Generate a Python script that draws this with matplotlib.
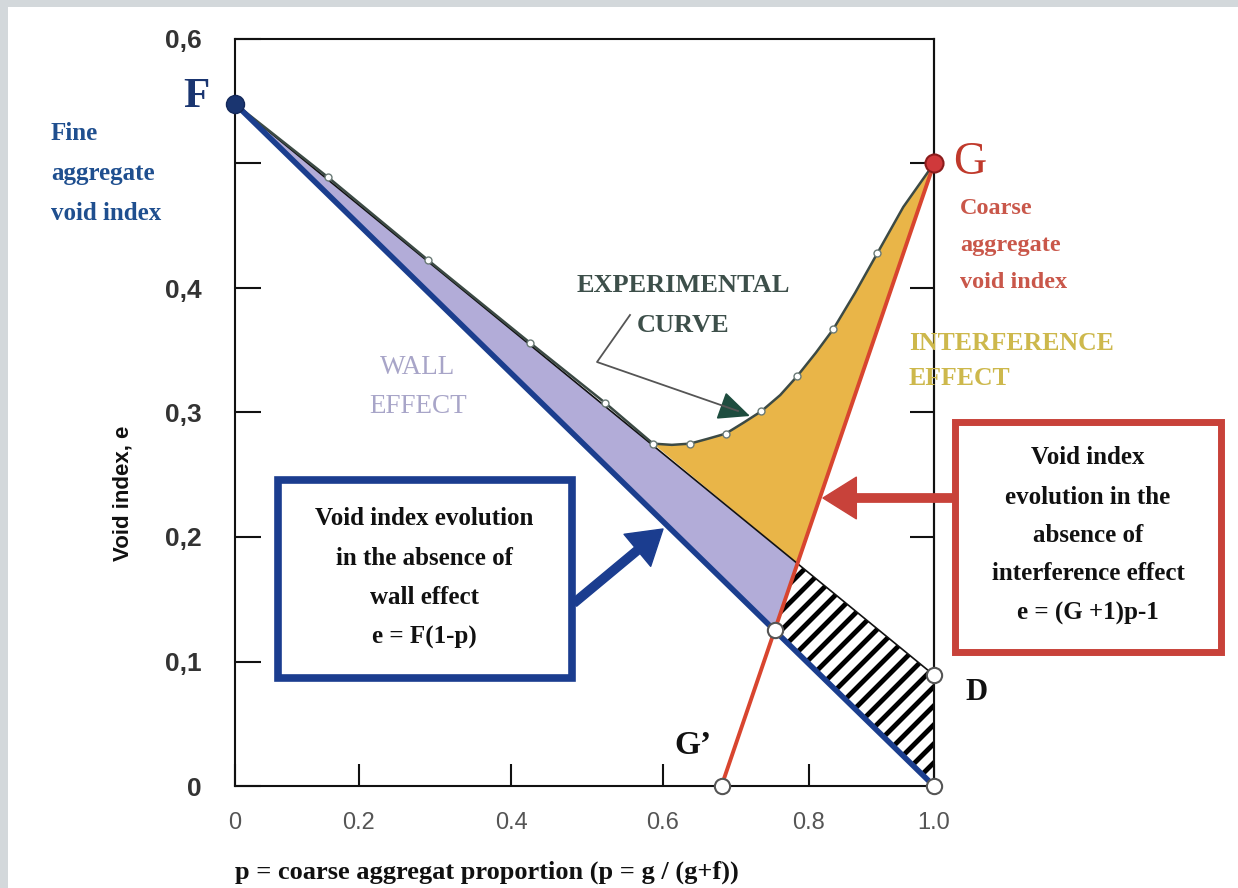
import matplotlib
matplotlib.use('Agg')
import matplotlib.pyplot as plt
import numpy as np
from matplotlib.patches import Rectangle, FancyArrowPatch, Polygon

# valeurs
F_void = 0.548      # indice des vides du sable (p = 0)
G_void = 0.50       # indice des vides du gravier (p = 1)
D_void = 0.089      # point D sur p = 1
Gp_pos = 0.696      # G' : la droite rouge coupe e = 0

# points mesurés (petits cercles blancs)
exp_p = [0.133, 0.276, 0.422, 0.529, 0.598, 0.651, 0.702, 0.753, 0.804, 0.856, 0.919]
exp_e = [0.489, 0.4225, 0.356, 0.308, 0.275, 0.275, 0.283, 0.301, 0.329, 0.367, 0.428]

# tracé de la courbe expérimentale (relevé le long du trait)
curve_p = [0.0, 0.133, 0.276, 0.422, 0.529, 0.598, 0.625, 0.651, 0.677, 0.702, 0.728,
           0.753, 0.780, 0.804, 0.831, 0.856, 0.887, 0.919, 0.956, 1.0]
curve_e = [0.548, 0.489, 0.4225, 0.356, 0.308, 0.275, 0.274, 0.275, 0.279, 0.283, 0.292,
           0.301, 0.314, 0.329, 0.348, 0.367, 0.396, 0.428, 0.465, 0.50]

x_tick_pos = [0, 0.177, 0.395, 0.612, 0.821, 1.0]
x_tick_lab = ['0', '0.2', '0.4', '0.6', '0.8', '1.0']
y_tick_pos = [0, 0.1, 0.2, 0.3, 0.4, 0.5, 0.6]
y_tick_lab = ['0', '0,1', '0,2', '0,3', '0,4', '', '0,6']
right_ticks = [0.2, 0.3, 0.4, 0.5]

W, H = 1238, 888
SERIF = 'Liberation Serif'
SANS = 'Liberation Sans'


def P(x, y):
    # pixel -> fraction de figure
    return (x / W, 1 - y / H)


fig = plt.figure(figsize=(W / 100, H / 100), dpi=100, facecolor='#d3d8db')
fig.add_artist(Rectangle(P(8, H), (W - 8) / W, (H - 7) / H, transform=fig.transFigure,
                         facecolor='white', edgecolor='none', zorder=-5))

ax_w, ax_h = 699, 747
ax = fig.add_axes([235 / W, (H - 786) / H, ax_w / W, ax_h / H])
ax.set_facecolor('none')
ax.set_xlim(0, 1)
ax.set_ylim(0, 0.6)

# droites
slope_r = G_void / (1 - Gp_pos)
slope_fd = D_void - F_void
p_rfd = (F_void + slope_r * Gp_pos) / (slope_r - slope_fd)
e_rfd = F_void + slope_fd * p_rfd
p_rb = (F_void + slope_r * Gp_pos) / (slope_r + F_void)
e_rb = F_void * (1 - p_rb)
i_min = curve_p.index(0.598)

lav = [(0, F_void), (p_rfd, e_rfd), (p_rb, e_rb)]
ax.add_patch(Polygon(lav, closed=True, facecolor='#b2acd8', edgecolor='none', zorder=1))
orange = list(zip(curve_p[i_min:], curve_e[i_min:])) + [(p_rfd, e_rfd)]
ax.add_patch(Polygon(orange, closed=True, facecolor='#e9b548', edgecolor='none', zorder=1))
hatch = Polygon([(p_rfd, e_rfd), (1, D_void), (1, 0), (p_rb, e_rb)], closed=True,
                facecolor='white', edgecolor='none', zorder=1)
ax.add_patch(hatch)
# hachures à 45° à l'écran, pas horizontal de 19 px
rise = 0.6 * ax_w / (ax_h / 0.6)   # hausse en e pour 0.6 en p à 45°
for c in np.arange(0.45, 1.02, 19 / ax_w):
    ln, = ax.plot([c, c + 0.6], [0, rise], color='black', lw=3.5, zorder=2,
                  solid_capstyle='butt')
    ln.set_clip_path(hatch)

ax.plot([0, 1], [F_void, D_void], color='#111111', lw=1.2, zorder=2)
ax.plot(curve_p, curve_e, color='#3c4a45', lw=1.8, zorder=3)
ax.plot(exp_p, exp_e, 'o', ms=5, mfc='white', mec='#6a7a76', mew=1.0, zorder=6)
ax.plot([0, 1], [F_void, 0], color='#1b3e8e', lw=4, solid_capstyle='round', zorder=4)
ax.plot([Gp_pos, 1], [0, G_void], color='#d8452f', lw=2.8, zorder=4)

ax.plot([p_rb, 1, 1, Gp_pos], [e_rb, D_void, 0, 0], 'o', ms=11, mfc='white',
        mec='#555555', mew=1.5, zorder=7, clip_on=False)
ax.plot([0], [F_void], 'o', ms=13, mfc='#1a3570', mec='#13285a', zorder=8, clip_on=False)
ax.plot([1], [G_void], 'o', ms=13, mfc='#d0393b', mec='#8c1c1c', mew=1.5, zorder=8, clip_on=False)

# axes
for s in ax.spines.values():
    s.set_linewidth(1.5)
    s.set_color('#111111')
ax.set_yticks(y_tick_pos)
ax.set_yticklabels(y_tick_lab, fontfamily=SANS, fontweight='bold', fontsize=19, color='#333333')
ax.set_xticks(x_tick_pos)
ax.set_xticklabels(x_tick_lab, fontfamily=SANS, fontsize=17, color='#555555')
ax.tick_params(axis='y', direction='in', length=19, width=1.5, pad=24, color='#111111')
ax.tick_params(axis='x', direction='in', length=16, width=1.5, pad=19, color='#111111')
sec = ax.secondary_yaxis('right')
sec.set_yticks(right_ticks)
sec.set_yticklabels([])
sec.tick_params(direction='in', length=17, width=1.5, color='#111111')
sec.spines['right'].set_linewidth(1.5)

fig.text(*P(123, 493), 'Void index, e', rotation=90, ha='center', va='center',
         fontfamily=SANS, fontweight='bold', fontsize=16, color='#111111')
fig.text(*P(235, 872), 'p = coarse aggregat proportion (p = g / (g+f))', ha='left', va='center',
         fontfamily=SERIF, fontweight='bold', fontsize=19, color='#111111')

# lettres et libellés
fig.text(*P(196, 97), 'F', ha='center', va='center', fontfamily=SERIF, fontweight='bold',
         fontsize=31, color='#1a3570')
for y, t in zip([133, 173, 213], ['Fine', 'aggregate', 'void index']):
    fig.text(*P(51, y), t, ha='left', va='center', fontfamily=SERIF, fontweight='bold',
             fontsize=18, color='#1f4f8f')
fig.text(*P(970, 163), 'G', ha='center', va='center', fontfamily=SERIF,
         fontsize=33, color='#c0392b')
for y, t in zip([208, 246, 283], ['Coarse', 'aggregate', 'void index']):
    fig.text(*P(960, y), t, ha='left', va='center', fontfamily=SERIF, fontweight='bold',
             fontsize=17.5, color='#c9574a')
fig.text(*P(693, 745), 'G\u2019', ha='center', va='center', fontfamily=SERIF, fontweight='bold',
         fontsize=24, color='#111111')
fig.text(*P(977, 692), 'D', ha='center', va='center', fontfamily=SERIF, fontweight='bold',
         fontsize=22, color='#111111')

for y, t in zip([285, 325], ['EXPERIMENTAL', 'CURVE']):
    fig.text(*P(683, y), t, ha='center', va='center', fontfamily=SERIF, fontweight='bold',
             fontsize=19, color='#3d4f4a')
for y, t in zip([368, 406], ['WALL', 'EFFECT']):
    fig.text(*P(418, y), t, ha='center', va='center', fontfamily=SERIF,
             fontsize=19.5, color='#a8a5c8')
for y, t in zip([343, 378], ['INTERFERENCE', 'EFFECT']):
    fig.text(*P(909, y), t, ha='left', va='center', fontfamily=SERIF, fontweight='bold',
             fontsize=18.5, color='#cdb84c')

# flèche de la courbe expérimentale
xa, ya = zip(P(630, 315), P(597, 362), P(738, 411))
fig.add_artist(plt.Line2D(xa, ya, transform=fig.transFigure, color='#555555', lw=1.3))
fig.add_artist(FancyArrowPatch(P(725, 407), P(750, 416), transform=fig.transFigure,
                               arrowstyle='-|>,head_length=1.1,head_width=0.5', mutation_scale=18,
                               fc='#1e4d3f', ec='#1e4d3f', lw=1.3, shrinkA=0, shrinkB=0))

# encadré bleu
x0, y0, x1, y1 = 278, 480, 572, 678
fig.add_artist(Rectangle(P(x0, y1), (x1 - x0) / W, (y1 - y0) / H, transform=fig.transFigure,
                         facecolor='white', edgecolor='#1b3d8f', linewidth=5.5, zorder=5))
for y, t in zip([518, 558, 598, 637], ['Void index evolution', 'in the absence of',
                                        'wall effect', 'e = F(1-p)']):
    fig.text(*P(424, y), t, ha='center', va='center', fontfamily=SERIF, fontweight='bold',
             fontsize=18, color='#111111', zorder=6)
fig.add_artist(FancyArrowPatch(P(574, 603), P(663, 529), transform=fig.transFigure,
                               arrowstyle='simple,head_length=2.4,head_width=3.0,tail_width=0.6',
                               mutation_scale=10, color='#1b3d8f', shrinkA=0, shrinkB=0, zorder=5))

# encadré rouge
x0, y0, x1, y1 = 955, 422, 1221, 652
fig.add_artist(Rectangle(P(x0, y1), (x1 - x0) / W, (y1 - y0) / H, transform=fig.transFigure,
                         facecolor='white', edgecolor='#c8423a', linewidth=5, zorder=5))
for y, t in zip([457, 497, 535, 573, 613], ['Void index', 'evolution in the', 'absence of',
                                             'interference effect', 'e = (G +1)p-1']):
    fig.text(*P(1088, y), t, ha='center', va='center', fontfamily=SERIF, fontweight='bold',
             fontsize=18, color='#111111', zorder=6)
fig.add_artist(FancyArrowPatch(P(953, 498), P(823, 498), transform=fig.transFigure,
                               arrowstyle='simple,head_length=2.4,head_width=3.0,tail_width=0.6',
                               mutation_scale=10, color='#c8423a', shrinkA=0, shrinkB=0, zorder=5))

fig.savefig('out.png', dpi=100, facecolor=fig.get_facecolor())
